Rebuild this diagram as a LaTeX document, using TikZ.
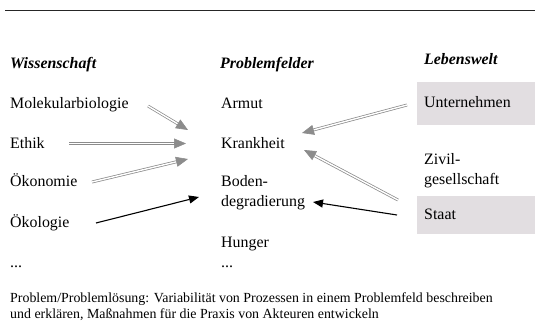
\documentclass[tikz,border=0pt]{standalone}
\usepackage{fontspec}
\setmainfont{Liberation Serif}
\usetikzlibrary{arrows.meta,calc}
\definecolor{boxgray}{HTML}{E2DEE1}
\definecolor{arrgray}{HTML}{8C8C8C}
\newcommand{\mytwo}[2]{\vtop{\hbox{#1}\hbox{#2}}}
\begin{document}
\begin{tikzpicture}[x=1pt,y=-1pt,
  txt/.style={anchor=base west, inner sep=0pt, font=\fontsize{15.9}{20.5}\selectfont},
  hdr/.style={anchor=base west, inner sep=0pt, font=\fontsize{15.9}{20.5}\selectfont\bfseries\itshape},
  small/.style={anchor=base west, inner sep=0pt, font=\fontsize{13.9}{16}\selectfont},
  actorbox/.style={anchor=north west, fill=boxgray, minimum width=118pt, inner xsep=7pt,
    text width=104pt, align=left, text height=11pt, text depth=3pt,
    font=\fontsize{15.9}{20.5}\selectfont},
  dline/.style={draw=arrgray, double=white, double distance=1.4pt, line width=0.75pt, shorten >=11pt},
  ghead/.style={-{Triangle[length=12pt,width=10pt]}, draw=arrgray, line width=0.6pt},
  barrow/.style={-{Triangle[length=10pt,width=8pt]}, draw=black, line width=1.1pt}]
\useasboundingbox (0,0) rectangle (535,329);

% top rule
\coordinate (tl) at (5,11);
\coordinate (tr) at (535,11);
\draw[line width=1pt, black!85] (tl) -- (tr);

% headers
\node[hdr] (hW) at (10,68) {Wissenschaft};
\node[hdr] (hP) at (220,68) {Problemfelder};
\node[hdr] (hL) at (424,65) {Lebenswelt};

% left column
\node[txt] (molek) at (10,108) {Molekularbiologie};
\node[txt] (ethik) at (10,148) {Ethik};
\node[txt] (oekon) at (10,186) {Ökonomie};
\node[txt] (oekol) at (10,227) {Ökologie};
\node[txt] (ldots) at (10,267) {...};

% middle column
\node[txt] (armut) at (221,108) {Armut};
\node[txt] (krank) at (221,148) {Krankheit};
\node[txt] (boden) at (221,186) {\mytwo{Boden-}{degradierung}};
\node[txt] (hunger) at (221,247) {Hunger};
\node[txt] (mdots) at (221,267) {...};

% right column
\node[actorbox, minimum height=43pt] (unt) at (417,82) {Unternehmen};
\node[txt] (zivil) at (424,164) {\mytwo{Zivil-}{gesellschaft}};
\node[actorbox, minimum height=38pt] (staat) at (417,196) {Staat};

% arrow end points
\coordinate (mS) at (148,106);  \coordinate (mT) at (188,130);
\coordinate (eS) at (69,143.5); \coordinate (eT) at (186,143.5);
\coordinate (oS) at (92,182);   \coordinate (oT) at (188,159);
\coordinate (kS) at (96,223);   \coordinate (kT) at (199,197);
\coordinate (uS) at (407,105);  \coordinate (uT) at (302,133);
\coordinate (sS) at (398,200);  \coordinate (sT) at (304,150);
\coordinate (bS) at (397,215);  \coordinate (bT) at (313,202);

% gray double arrows
\draw[dline] (mS) -- (mT);
\draw[ghead] ($(mT)!12pt!(mS)$) -- (mT);
\draw[dline] (eS) -- (eT);
\draw[ghead] ($(eT)!12pt!(eS)$) -- (eT);
\draw[dline] (oS) -- (oT);
\draw[ghead] ($(oT)!12pt!(oS)$) -- (oT);
\draw[dline] (uS) -- (uT);
\draw[ghead] ($(uT)!12pt!(uS)$) -- (uT);
\draw[dline] (sS) -- (sT);
\draw[ghead] ($(sT)!12pt!(sS)$) -- (sT);

% black arrows
\draw[barrow] (kS) -- (kT);
\draw[barrow] (bS) -- (bT);

% caption
\node[small] (cap) at (10,302) {\mytwo{Problem/Problemlösung: Variabilität von Prozessen in einem Problemfeld beschreiben}{und erklären, Maßnahmen für die Praxis von Akteuren entwickeln}};
\end{tikzpicture}
\end{document}
